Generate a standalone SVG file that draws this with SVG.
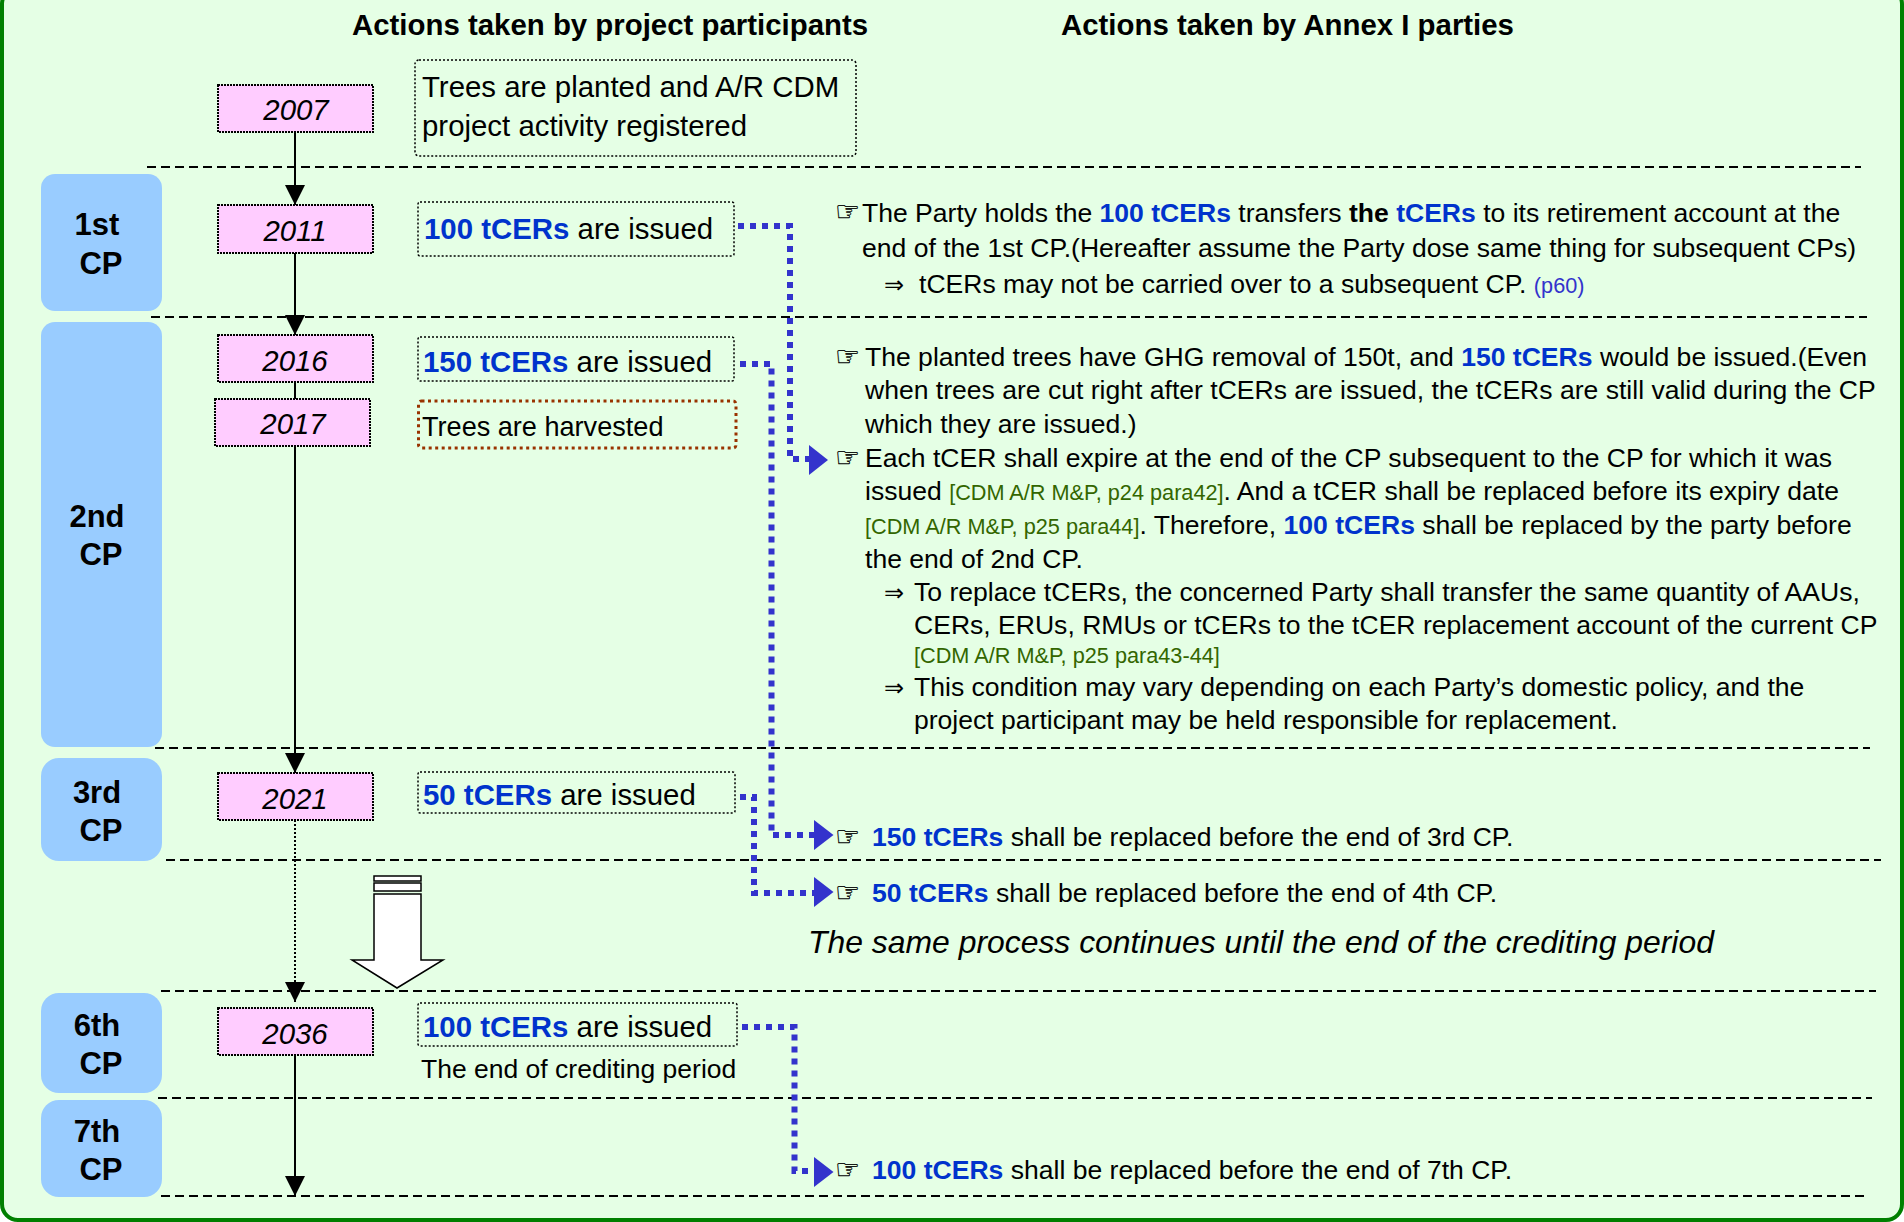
<svg xmlns="http://www.w3.org/2000/svg" width="1904" height="1222" viewBox="0 0 1904 1222">
<style>
text{font-family:"Liberation Sans",Arial,sans-serif;fill:#000;white-space:pre}
.h{font-size:29.4px;font-weight:bold}
.cp{font-size:31px;font-weight:bold;text-anchor:middle}
.yr{font-size:29.4px;font-style:italic;text-anchor:middle}
.a{font-size:29.4px}
.b{font-size:26.55px}
.s{font-size:21.7px}
.t{fill:#0033CC;font-weight:bold}
.r{fill:#336600}
.hand{font-family:"DejaVu Sans",sans-serif;font-size:28px;fill:#000;stroke:#000;stroke-width:.3}
.imp{font-family:"DejaVu Sans",sans-serif;font-size:24px}
.cpb{fill:#99CCFF}
.yb{fill:#FFCCFF;stroke:#000;stroke-width:2;stroke-dasharray:2 1}
.ab{fill:none;stroke:#000;stroke-width:1.5;stroke-dasharray:2 2}
.sep{fill:none;stroke:#000;stroke-width:2;stroke-dasharray:9 5}
.ln{fill:none;stroke:#000;stroke-width:2}
.blue{fill:none;stroke:#3333CC;stroke-width:6;stroke-dasharray:6 6}
</style>
<defs>
<marker id="ah" markerUnits="userSpaceOnUse" markerWidth="20" markerHeight="21" refX="20" refY="10" orient="auto"><path d="M0 0L20 10L0 20Z" fill="#000"/></marker>
</defs>
<rect x="2" y="-12" width="1900" height="1232" rx="16" fill="#E5FFE5" stroke="#008000" stroke-width="4"/>

<text class="h" x="352" y="35">Actions taken by project participants</text>
<text class="h" x="1061" y="35">Actions taken by Annex I parties</text>

<g id="connectors">
<path class="sep" d="M147 167H1861M151 317H1867M155 748H1870M166 860H1881M161 991H1876M158 1098H1872M161 1196H1866"/>
<path class="ln" d="M295 132V205" marker-end="url(#ah)"/>
<path class="ln" d="M295 253V335" marker-end="url(#ah)"/>
<path class="ln" d="M295 382V399M295 446V773" marker-end="url(#ah)"/>
<path class="ln" d="M295 820V1002" stroke-dasharray="2 2" marker-end="url(#ah)"/>
<path class="ln" d="M295 1055V1196" marker-end="url(#ah)"/>
<path class="blue" d="M738 226H790V459H812"/><path d="M809 445L828 460L809 475Z" fill="#3333CC"/>
<path class="blue" d="M740 364H771.5V835H816"/><path d="M814 820L833.500 835L814 850Z" fill="#3333CC"/>
<path class="blue" d="M740 797H754V893H816"/><path d="M814 877L833.500 892L814 907Z" fill="#3333CC"/>
<path class="blue" d="M742 1027H794.500V1171H816"/><path d="M814 1157L833.500 1172L814 1187Z" fill="#3333CC"/>
</g>

<g id="cp1"><rect class="cpb" x="41" y="174" width="121" height="137" rx="14"/><text class="cp" x="97" y="235">1st</text><text class="cp" x="101" y="274">CP</text></g>
<g id="cp2"><rect class="cpb" x="41" y="322" width="121" height="425" rx="14"/><text class="cp" x="97" y="527">2nd</text><text class="cp" x="101" y="565">CP</text></g>
<g id="cp3"><rect class="cpb" x="41" y="758" width="121" height="103" rx="18"/><text class="cp" x="97" y="803">3rd</text><text class="cp" x="101" y="841">CP</text></g>
<g id="cp6"><rect class="cpb" x="41" y="993" width="121" height="100" rx="18"/><text class="cp" x="97" y="1036">6th</text><text class="cp" x="101" y="1074">CP</text></g>
<g id="cp7"><rect class="cpb" x="41" y="1100" width="121" height="97" rx="18"/><text class="cp" x="97" y="1142">7th</text><text class="cp" x="101" y="1180">CP</text></g>

<g id="y2007"><rect class="yb" x="218" y="85" width="155" height="47"/><text class="yr" x="296" y="120">2007</text></g>
<g id="y2011"><rect class="yb" x="218" y="205" width="155" height="48"/><text class="yr" x="295" y="241">2011</text></g>
<g id="y2016"><rect class="yb" x="218" y="335" width="155" height="47"/><text class="yr" x="295" y="371">2016</text></g>
<g id="y2017"><rect class="yb" x="215" y="399" width="155" height="47"/><text class="yr" x="293" y="434">2017</text></g>
<g id="y2021"><rect class="yb" x="218" y="773" width="155" height="47"/><text class="yr" x="295" y="809">2021</text></g>
<g id="y2036"><rect class="yb" x="218" y="1008" width="155" height="47"/><text class="yr" x="295" y="1044">2036</text></g>

<g id="planted"><rect class="ab" x="415" y="60" width="441" height="96" rx="4"/><text class="a" x="422" y="97">Trees are planted and A/R CDM</text><text class="a" x="422" y="136">project activity registered</text></g>
<g id="issued100"><rect class="ab" x="418" y="202" width="316" height="54" rx="2"/><text class="a" x="424" y="239"><tspan class="t">100 tCERs</tspan> are issued</text></g>
<g id="issued150"><rect class="ab" x="418" y="337" width="316" height="44" rx="2"/><text class="a" x="423" y="372"><tspan class="t">150 tCERs</tspan> are issued</text></g>
<g id="harvested"><rect x="418.500" y="401" width="317.500" height="47" rx="3" fill="none" stroke="#993300" stroke-width="3" stroke-dasharray="3 3.500"/><text x="422" y="436" style="font-size:27.1px">Trees are harvested</text></g>
<g id="issued50"><rect class="ab" x="418" y="772" width="317" height="41" rx="2"/><text class="a" x="423" y="805"><tspan class="t">50 tCERs</tspan> are issued</text></g>
<g id="issued100b"><rect class="ab" x="418" y="1003" width="319" height="43" rx="2"/><text class="a" x="423" y="1037"><tspan class="t">100 tCERs</tspan> are issued</text><text x="421" y="1078" style="font-size:26.5px">The end of crediting period</text></g>

<g id="notes1">
<text class="hand" x="835" y="221">☞</text>
<text class="b" x="862" y="222">The Party holds the <tspan class="t">100 tCERs</tspan> transfers <tspan font-weight="bold">the</tspan> <tspan class="t">tCERs</tspan> to its retirement account at the</text>
<text class="b" x="862" y="257">end of the 1st CP.(Hereafter assume the Party dose same thing for subsequent CPs)</text>
<text class="imp" x="884" y="293">⇒</text>
<text class="b" x="919" y="293">tCERs may not be carried over to a subsequent CP. <tspan class="s" style="fill:#3333CC">(p60)</tspan></text>
</g>
<g id="notes2">
<text class="hand" x="835" y="366">☞</text>
<text class="b" x="865" y="366">The planted trees have GHG removal of 150t, and <tspan class="t">150 tCERs</tspan> would be issued.(Even</text>
<text class="b" x="865" y="399">when trees are cut right after tCERs are issued, the tCERs are still valid during the CP</text>
<text class="b" x="865" y="433">which they are issued.)</text>
<text class="hand" x="835" y="467">☞</text>
<text class="b" x="865" y="467">Each tCER shall expire at the end of the CP subsequent to the CP for which it was</text>
<text class="b" x="865" y="500">issued <tspan class="s r">[CDM A/R M&amp;P, p24 para42]</tspan>. And a tCER shall be replaced before its expiry date</text>
<text class="b" x="865" y="534"><tspan class="s r">[CDM A/R M&amp;P, p25 para44]</tspan>. Therefore, <tspan class="t">100 tCERs</tspan> shall be replaced by the party before</text>
<text class="b" x="865" y="568">the end of 2nd CP.</text>
<text class="imp" x="884" y="601">⇒</text>
<text class="b" x="914" y="601">To replace tCERs, the concerned Party shall transfer the same quantity of AAUs,</text>
<text class="b" x="914" y="634">CERs, ERUs, RMUs or tCERs to the tCER replacement account of the current CP</text>
<text class="s r" x="914" y="663">[CDM A/R M&amp;P, p25 para43-44]</text>
<text class="imp" x="884" y="696">⇒</text>
<text class="b" x="914" y="696">This condition may vary depending on each Party’s domestic policy, and the</text>
<text class="b" x="914" y="729">project participant may be held responsible for replacement.</text>
</g>
<g id="notes3">
<text class="hand" x="835" y="846">☞</text><text class="b" x="872" y="846"><tspan class="t">150 tCERs</tspan> shall be replaced before the end of 3rd CP.</text>
<text class="hand" x="835" y="902">☞</text><text class="b" x="872" y="902"><tspan class="t">50 tCERs</tspan> shall be replaced before the end of 4th CP.</text>
<text x="808" y="953" style="font-size:31.9px;font-style:italic">The same process continues until the end of the crediting period</text>
<text class="hand" x="835" y="1179">☞</text><text class="b" x="872" y="1179"><tspan class="t">100 tCERs</tspan> shall be replaced before the end of 7th CP.</text>
</g>
<g id="bigarrow" fill="#fff" stroke="#000" stroke-width="1.5">
<rect x="374" y="876" width="47" height="5"/><rect x="374" y="883" width="47" height="8"/>
<path d="M374 894H421V960H443L397 988L352 960H374Z"/>
</g>
</svg>
